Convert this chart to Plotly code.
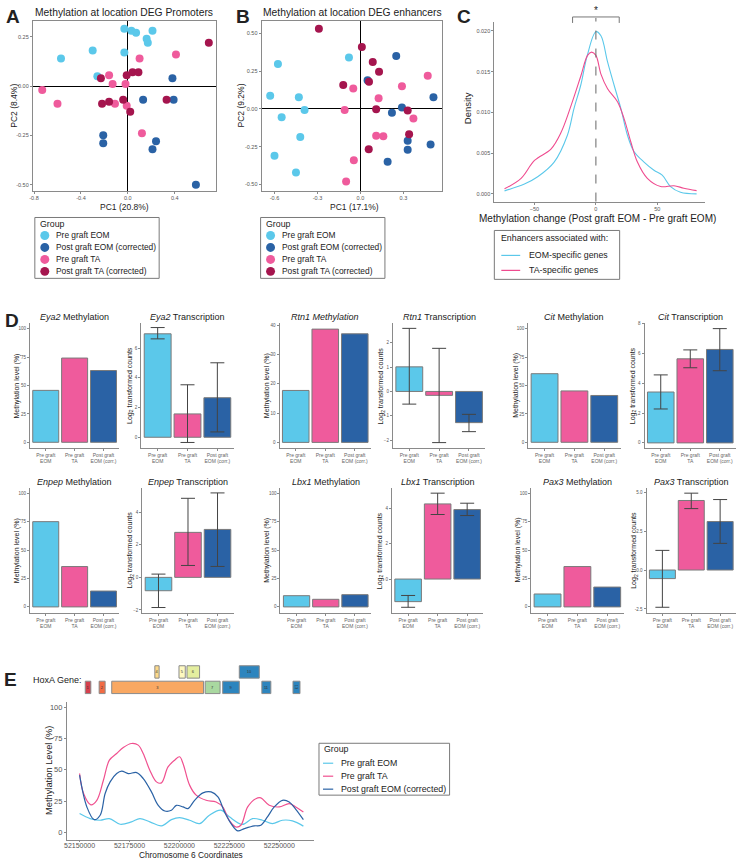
import plotly.graph_objects as go

W, H = 740, 860


def fx(p):
    return p / W


def fy(p):
    return 1 - p / H


# colours
PRE_EOM = '#5BC8EA'
POST_EOM = '#2A62A5'
PRE_TA = '#EF5B9C'
POST_TA = '#A5154E'
GREY = '#8a8a8a'
TICK = '#555555'
FONT = 'Liberation Sans, Arial, sans-serif'

# ---- panel A: PCA promoters
A_PRE_EOM_X = [-0.03, 0.03, 0.07, 0.21, 0.16, 0.17, -0.30, -0.57, -0.03, -0.26]
A_PRE_EOM_Y = [0.29, 0.28, 0.27, 0.28, 0.24, 0.22, 0.18, 0.14, 0.17, 0.05]
A_POST_EOM_X = [0.38, 0.13, 0.39, -0.21, -0.21, 0.24, 0.21, 0.58]
A_POST_EOM_Y = [0.04, -0.07, -0.07, -0.25, -0.29, -0.28, -0.32, -0.50]
A_PRE_TA_X = [-0.73, -0.60, -0.16, -0.13, -0.11, -0.02, -0.01, 0.10, 0.41, 0.12]
A_PRE_TA_Y = [-0.02, -0.09, 0.055, 0.01, -0.09, 0.01, -0.10, 0.14, 0.16, -0.24]
A_POST_TA_X = [-0.23, -0.22, -0.16, -0.04, -0.01, 0.04, 0.09, 0.02, 0.33, 0.69]
A_POST_TA_Y = [0.04, -0.09, -0.08, -0.07, 0.055, 0.07, 0.07, -0.13, -0.07, 0.22]

# ---- panel B: PCA enhancers
B_PRE_EOM_X = [-0.576, -0.63, -0.43, -0.39, -0.55, -0.42, -0.60, -0.45, -0.08]
B_PRE_EOM_Y = [0.297, 0.088, 0.077, -0.007, -0.055, -0.185, -0.31, -0.42, 0.34]
B_POST_EOM_X = [0.25, 0.05, 0.51, 0.29, 0.22, 0.33, 0.33, 0.49, 0.19]
B_POST_EOM_Y = [0.35, 0.19, 0.077, 0.01, -0.026, -0.21, -0.27, -0.235, -0.35]
B_PRE_TA_X = [-0.05, -0.11, -0.046, -0.10, 0.127, 0.29, 0.47, 0.37, 0.11, 0.16]
B_PRE_TA_Y = [0.136, -0.007, -0.34, -0.48, 0.07, 0.15, 0.22, -0.064, -0.178, -0.18]
B_POST_TA_X = [-0.29, 0.01, 0.086, 0.13, -0.12, 0.06, 0.11, 0.33, 0.34, 0.058]
B_POST_TA_Y = [0.53, 0.41, 0.31, 0.246, 0.158, 0.18, -0.002, -0.01, -0.167, -0.266]

# ---- panel C: density of methylation change
EOM_DENS_X = [-74.4, -58.2, -47.4, -34, -23.2, -17.8, -12.4, -7.0, 0, 4.1, 9.5, 14.9, 20.3,
              25.7, 31, 39.2, 47.3, 54, 60.8, 68.9, 82]
EOM_DENS_Y = [0.00037, 0.0012, 0.0021, 0.0039, 0.0072, 0.0105, 0.0133, 0.0170, 0.0199, 0.0194,
              0.0162, 0.0133, 0.0105, 0.0072, 0.0052, 0.0039, 0.0029, 0.0023, 0.0009, 0.0002, 0.0000]
TA_DENS_X = [-74.4, -60.9, -50, -36.6, -28.5, -20.3, -12.2, -6.8, -3.5, 0, 4.1, 9.5, 17.6, 23,
             28.4, 33.8, 41.9, 52.7, 63.5, 71.6, 82]
TA_DENS_Y = [0.00062, 0.0019, 0.0041, 0.0055, 0.0075, 0.0108, 0.0145, 0.0170, 0.0174, 0.0170,
             0.0147, 0.0129, 0.0113, 0.0092, 0.0064, 0.0039, 0.0019, 0.0009, 0.0010, 0.0007, 0.0004]
SIG_BRACKET = [-19, 19]

# ---- panel D: bar charts
GROUPS = ['Pre graft<br>EOM', 'Pre graft<br>TA', 'Post graft<br>EOM (corr.)']
BAR_COLORS = [PRE_EOM, PRE_TA, POST_EOM]
METHYLATION = {
    'Eya2': [45.8, 74.3, 63.3],
    'Rtn1': [17.7, 38.6, 37.0],
    'Cit': [60.5, 45.3, 41.3],
    'Enpep': [75.2, 35.6, 14.0],
    'Lbx1': [9.9, 6.7, 10.8],
    'Pax3': [11.4, 35.6, 17.5],
}
TRANSCRIPTION = {
    'Eya2': [6.96, 1.57, 2.66],
    'Rtn1': [1.01, -0.16, -1.28],
    'Cit': [3.42, 5.65, 6.28],
    'Enpep': [-0.82, 2.76, 2.94],
    'Lbx1': [-1.28, 4.26, 3.94],
    'Pax3': [-0.55, 4.46, 3.11],
}
TRANS_LOW = {
    'Eya2': [6.62, -0.35, 0.36],
    'Rtn1': [-0.52, -2.10, -1.65],
    'Cit': [2.28, 5.05, 4.85],
    'Enpep': [-1.85, 0.73, 0.67],
    'Lbx1': [-1.60, 3.66, 3.60],
    'Pax3': [-2.39, 3.94, 1.71],
}
TRANS_HIGH = {
    'Eya2': [7.38, 3.53, 5.01],
    'Rtn1': [2.59, 1.77, -0.94],
    'Cit': [4.57, 6.25, 7.68],
    'Enpep': [0.20, 4.85, 5.18],
    'Lbx1': [-0.93, 4.87, 4.30],
    'Pax3': [1.26, 4.93, 4.52],
}

# ---- panel E: HoxA cluster
GENE_LABELS = ['1', '2', '3', '4', '5', '6', '7', '9', '10', '11', '13']
GENE_START = [52152840, 52159800, 52166100, 52187700, 52199800, 52203800, 52212900,
              52221700, 52230000, 52241300, 52256900]
GENE_END = [52155630, 52162800, 52212100, 52189840, 52202940, 52210100, 52220370,
            52230000, 52240000, 52245800, 52260400]
GENE_ROW = [0, 0, 0, 1, 1, 1, 0, 0, 1, 0, 0]
GENE_COLORS = ['#D6404E', '#F26B43', '#F9A862', '#FDDA8A', '#FEF9C0', '#E4EE9F', '#A9D8A0',
               '#2D85BE', '#2D85BE', '#2D85BE', '#2D85BE']

E_TA_X = [52150000, 52152000, 52155630, 52158620, 52161940, 52164930, 52168580, 52171900,
          52176050, 52179370, 52181860, 52185180, 52188500, 52191000, 52194300, 52197600,
          52200100, 52201800, 52205100, 52208400, 52213400, 52218400, 52221700, 52225000,
          52228300, 52230800, 52234200, 52238300, 52240800, 52245000, 52250000, 52255000,
          52258300, 52262100]
E_TA_Y = [47, 31, 22, 25.6, 41.6, 57.6, 62.9, 67.7, 70.9, 69.6, 62.9, 49.6, 40.3, 39.5, 52.2,
          57.6, 60.3, 55, 37.7, 29.7, 25.6, 24.3, 20.3, 9.6, 4.3, 5.7, 20.3, 26.9, 27.5, 21.6,
          20.3, 22.9, 20.3, 16.3]
E_POST_X = [52150000, 52153650, 52157300, 52160300, 52162800, 52165300, 52168600, 52171100,
            52174400, 52178600, 52181900, 52186000, 52189400, 52192700, 52196000, 52198500,
            52201800, 52204300, 52207600, 52211800, 52215900, 52219300, 52222600, 52225900,
            52229200, 52232500, 52237500, 52240800, 52244100, 52247500, 52251600, 52255000,
            52258300, 52262100]
E_POST_Y = [45.6, 20.3, 10.2, 13.7, 31, 40.3, 46.9, 48.8, 46.9, 47.7, 42.9, 32.3, 21.6, 17.1,
            17.7, 21.6, 20.3, 19, 25.6, 31.5, 32.3, 28.3, 16.3, 7, 1.2, 3, 5.2, 5.7, 12.3, 20.3,
            25.6, 24.3, 18.4, 10.2]
E_EOM_X = [52150000, 52155300, 52160300, 52164900, 52170300, 52176000, 52180200, 52185200,
           52191000, 52196000, 52200100, 52205100, 52210100, 52215000, 52220800, 52225000,
           52231600, 52236600, 52241600, 52246600, 52251600, 52256600, 52262100]
E_EOM_Y = [15, 11, 9.7, 11, 6.5, 8.4, 11, 8.4, 5.2, 10.2, 11.8, 9.7, 7, 13.7, 17.7, 12.4, 6.4,
           11, 9.7, 7, 9.7, 9.2, 5]

fig = go.Figure()
layout = dict(width=W, height=H, autosize=False, margin=dict(l=0, r=0, t=0, b=0, pad=0),
              plot_bgcolor='white', paper_bgcolor='white', showlegend=False,
              font=dict(family=FONT, color='#222222'))
annotations = []
shapes = []


def make_axes(n, xpx, ypx, xrange, yrange, xkw=None, ykw=None):
    s = '' if n == 1 else str(n)
    base = dict(showgrid=False, zeroline=False, showline=True, linecolor=GREY, linewidth=1,
                ticks='outside', ticklen=2, tickwidth=1, tickcolor=GREY,
                tickfont=dict(size=5.5, color=TICK))
    layout['xaxis' + s] = dict(base, domain=[fx(xpx[0]), fx(xpx[1])], range=xrange,
                               anchor='y' + s, **(xkw or {}))
    layout['yaxis' + s] = dict(base, domain=[fy(ypx[1]), fy(ypx[0])], range=yrange,
                               anchor='x' + s, **(ykw or {}))
    return 'x' + s, 'y' + s


def text(x, y, s, size, color='#222222', **kw):
    kw.setdefault('xanchor', 'center')
    kw.setdefault('yanchor', 'middle')
    annotations.append(dict(x=fx(x), y=fy(y), xref='paper', yref='paper', text=s,
                            showarrow=False, font=dict(size=size, color=color, family=FONT), **kw))


def box(x0, y0, x1, y1):
    shapes.append(dict(type='rect', xref='paper', yref='paper', x0=fx(x0), x1=fx(x1),
                       y0=fy(y1), y1=fy(y0), line=dict(color='#7a7a7a', width=1)))


# ---------------- A and B
pca_style = dict(mirror=True, zeroline=True, zerolinecolor='black', zerolinewidth=1)
xa, ya = make_axes(1, (29, 213), (19, 189), [-0.81, 0.75], [-0.53, 0.33],
                   xkw=dict(pca_style, tickvals=[-0.8, -0.4, 0, 0.4],
                            ticktext=['-0.8', '-0.4', '0.0', '0.4']),
                   ykw=dict(pca_style, tickvals=[-0.5, -0.25, 0, 0.25],
                            ticktext=['-0.50', '-0.25', '0.00', '0.25']))
for xs, ys, col in [(A_PRE_EOM_X, A_PRE_EOM_Y, PRE_EOM), (A_POST_EOM_X, A_POST_EOM_Y, POST_EOM),
                    (A_PRE_TA_X, A_PRE_TA_Y, PRE_TA), (A_POST_TA_X, A_POST_TA_Y, POST_TA)]:
    fig.add_trace(go.Scatter(x=xs, y=ys, mode='markers', marker=dict(size=8, color=col),
                             xaxis=xa, yaxis=ya, cliponaxis=False))

xb, yb = make_axes(2, (259, 440), (19, 189), [-0.69, 0.567], [-0.54, 0.582],
                   xkw=dict(pca_style, tickvals=[-0.6, -0.3, 0, 0.3],
                            ticktext=['-0.6', '-0.3', '0.0', '0.3']),
                   ykw=dict(pca_style, tickvals=[-0.5, -0.25, 0, 0.25, 0.5],
                            ticktext=['-0.50', '-0.25', '0.00', '0.25', '0.50']))
for xs, ys, col in [(B_PRE_EOM_X, B_PRE_EOM_Y, PRE_EOM), (B_POST_EOM_X, B_POST_EOM_Y, POST_EOM),
                    (B_PRE_TA_X, B_PRE_TA_Y, PRE_TA), (B_POST_TA_X, B_POST_TA_Y, POST_TA)]:
    fig.add_trace(go.Scatter(x=xs, y=ys, mode='markers', marker=dict(size=8, color=col),
                             xaxis=xb, yaxis=yb, cliponaxis=False))

text(121, 11, 'Methylation at location DEG Promoters', 10.3)
text(350, 11, 'Methylation at location DEG enhancers', 10.3)
text(121, 205, 'PC1 (20.8%)', 8.5)
text(352, 205, 'PC1 (17.1%)', 8.5)
text(10, 104, 'PC2 (8.4%)', 8.5, textangle=-90)
text(238, 104, 'PC2 (9.2%)', 8.5, textangle=-90)

group_names = ['Pre graft EOM', 'Post graft EOM (corrected)', 'Pre graft TA',
               'Post graft TA (corrected)']
group_cols = [PRE_EOM, POST_EOM, PRE_TA, POST_TA]
for lx in (31, 258):
    box(lx, 216, lx + 125, 277)
    text(lx + 3, 223, 'Group', 8.8, xanchor='left')
    for i, (nm, col) in enumerate(zip(group_names, group_cols)):
        cy = 234 + i * 12
        shapes.append(dict(type='circle', xref='paper', yref='paper', x0=fx(lx + 5.5),
                           x1=fx(lx + 14.5), y0=fy(cy + 4.5), y1=fy(cy - 4.5),
                           fillcolor=col, line=dict(width=0)))
        text(lx + 19, cy, nm, 8.4, xanchor='left')

# ---------------- C
xc, yc = make_axes(3, (493, 705), (20, 200), [-82.7, 89], [-0.00094, 0.0211],
                   xkw=dict(tickvals=[-50, 0, 50]),
                   ykw=dict(tickvals=[0, 0.005, 0.01, 0.015, 0.02], tickformat='.3f'))
fig.add_trace(go.Scatter(x=EOM_DENS_X, y=EOM_DENS_Y, mode='lines', line=dict(color=PRE_EOM, width=1.1, shape='spline'),
                         xaxis=xc, yaxis=yc))
fig.add_trace(go.Scatter(x=TA_DENS_X, y=TA_DENS_Y, mode='lines', line=dict(color='#EF4B8F', width=1.1, shape='spline'),
                         xaxis=xc, yaxis=yc))
shapes.append(dict(type='line', xref=xc, yref='paper', x0=0, x1=0, y0=fy(200), y1=fy(16),
                   line=dict(color='#666666', width=1, dash='dash')))
shapes.append(dict(type='line', xref=xc, yref='paper', x0=SIG_BRACKET[0], x1=SIG_BRACKET[1],
                   y0=fy(15), y1=fy(15), line=dict(color='#777777', width=1)))
for bx in SIG_BRACKET:
    shapes.append(dict(type='line', xref=xc, yref='paper', x0=bx, x1=bx, y0=fy(15), y1=fy(21),
                       line=dict(color='#777777', width=1)))
annotations.append(dict(x=0, xref=xc, y=fy(9), yref='paper', text='*', showarrow=False,
                        xanchor='center', yanchor='middle',
                        font=dict(size=10, color='#222222', family=FONT)))
text(462, 15, '<b>C</b>', 19)
text(466, 106, 'Density', 9.5, textangle=-90)
text(597, 217, 'Methylation change (Post graft EOM - Pre graft EOM)', 10)
box(493, 229, 619, 278)
text(498, 237, 'Enhancers associated with:', 8.8, xanchor='left')
for cy, nm, col in [(254, 'EOM-specific genes', PRE_EOM), (269, 'TA-specific genes', '#EF4B8F')]:
    shapes.append(dict(type='line', xref='paper', yref='paper', x0=fx(500), x1=fx(519),
                       y0=fy(cy), y1=fy(cy), line=dict(color=col, width=1.2)))
    text(526, cy, nm, 8.8, xanchor='left')

# ---------------- D
D_PANELS = [
    # gene, row top/bottom, methylation axis x-span, transcription axis x-span,
    # methylation range/ticks, transcription range/ticks
    ('Eya2', (322, 447), (26, 116), (138, 231), [-5, 105], [0, 25, 50, 75, 100],
     [-0.72, 7.67], [0, 2, 4, 6], None, False),
    ('Rtn1', (322, 447), (277, 369), (391, 484), [-1.9, 40.6], [0, 10, 20, 30, 40],
     [-2.32, 2.8], [-2, -1, 0, 1, 2], None, True),
    ('Cit', (322, 447), (527, 620), (644, 736), [-5, 105], [0, 25, 50, 75, 100],
     [-0.34, 8.04], [0, 2, 4, 6, 8], None, False),
    ('Enpep', (487, 612), (26, 116), (139, 231), [-5, 105], [0, 25, 50, 75, 100],
     [-2.16, 5.49], [-2, 0, 2, 4], None, False),
    ('Lbx1', (487, 612), (278, 369), (390, 482), [-5, 105], [0, 25, 50, 75, 100],
     [-1.9, 5.17], [0, 2, 4], None, False),
    ('Pax3', (487, 612), (530, 623), (646, 736), [-5, 105], [0, 25, 50, 75, 100],
     [-2.73, 5.27], [-2.5, 0, 2.5, 5], ['-2.5', '0.0', '2.5', '5.0'], False),
]
n = 4
cat_kw = dict(type='category', tickfont=dict(size=5, color='#666666'), ticklen=2)
for gene, rowy, mspan, tspan, mrange, mticks, trange, tticks, tlabels, all_italic in D_PANELS:
    mx, my = make_axes(n, mspan, rowy, [-0.55, 2.55], mrange, xkw=dict(cat_kw),
                       ykw=dict(tickvals=mticks, tickfont=dict(size=4.5, color=TICK)))
    n += 1
    fig.add_trace(go.Bar(x=GROUPS, y=METHYLATION[gene], width=0.9,
                         marker=dict(color=BAR_COLORS, line=dict(color='#7a7a7a', width=1)),
                         xaxis=mx, yaxis=my))
    tkw = dict(tickvals=tticks, tickfont=dict(size=4.5, color=TICK))
    if tlabels:
        tkw['ticktext'] = tlabels
    tx, ty = make_axes(n, tspan, rowy, [-0.55, 2.55], trange, xkw=dict(cat_kw), ykw=tkw)
    n += 1
    vals = TRANSCRIPTION[gene]
    up = [h - v for h, v in zip(TRANS_HIGH[gene], vals)]
    down = [v - lo for v, lo in zip(vals, TRANS_LOW[gene])]
    fig.add_trace(go.Bar(x=GROUPS, y=vals, width=0.9,
                         marker=dict(color=BAR_COLORS, line=dict(color='#7a7a7a', width=1)),
                         error_y=dict(type='data', array=up, arrayminus=down, color='#444444',
                                      thickness=1, width=7),
                         xaxis=tx, yaxis=ty))
    ty_title = rowy[0] - 6
    mtitle = f'<i>{gene} Methylation</i>' if all_italic else f'<i>{gene}</i> Methylation'
    text((mspan[0] + mspan[1]) / 2, ty_title, mtitle, 9)
    text((tspan[0] + tspan[1]) / 2, ty_title, f'<i>{gene}</i> Transcription', 9)
    midy = (rowy[0] + rowy[1]) / 2
    text(mspan[0] - 13, midy, 'Methylation level (%)', 7, textangle=-90)
    text(tspan[0] - 12, midy, 'Log<sub>2</sub> transformed counts', 7, textangle=-90)

text(8, 319, '<b>D</b>', 19)

# ---------------- E
e_range = [52143675, 52267430]
ex, ey = make_axes(n, (63.3, 311.7), (702, 840), e_range, [-6.1, 103.7],
                   xkw=dict(tick0=52150000, dtick=25000, tickformat='d', ticklen=1,
                            ticklabelstandoff=-2, tickfont=dict(size=7, color=TICK)),
                   ykw=dict(tickvals=[0, 25, 50, 75, 100], tickfont=dict(size=7.5, color=TICK)))
n += 1
for xs, ys, col in [(E_EOM_X, E_EOM_Y, PRE_EOM), (E_TA_X, E_TA_Y, '#F0508F'),
                    (E_POST_X, E_POST_Y, POST_EOM)]:
    fig.add_trace(go.Scatter(x=xs, y=ys, mode='lines', line=dict(color=col, width=1.2, shape='spline'),
                             xaxis=ex, yaxis=ey))

gx, gy = make_axes(n, (63.3, 311.7), (663.75, 694.75), e_range, [-0.5, 1.5],
                   xkw=dict(visible=False), ykw=dict(visible=False))
fig.add_trace(go.Bar(x=[e - s for s, e in zip(GENE_START, GENE_END)], base=GENE_START, y=GENE_ROW,
                     orientation='h', width=0.8, text=GENE_LABELS, textposition='inside',
                     insidetextanchor='middle', constraintext='none',
                     textfont=dict(size=4, color='#333333'),
                     marker=dict(color=GENE_COLORS, line=dict(color='#8a8a8a', width=1)),
                     xaxis=gx, yaxis=gy))

text(7, 679, '<b>E</b>', 19)
text(27, 680, 'HoxA Gene:', 9, xanchor='left')
text(45, 770, 'Methylation Level (%)', 9.3, textangle=-90)
text(188, 855, 'Chromosome 6 Coordinates', 8.3)
box(316.7, 743, 448, 795)
text(320, 749, 'Group', 8.8, xanchor='left')
for cy, nm, col in [(763, 'Pre graft EOM', PRE_EOM), (776, 'Pre graft TA', '#F0508F'),
                    (789, 'Post graft EOM (corrected)', POST_EOM)]:
    shapes.append(dict(type='line', xref='paper', yref='paper', x0=fx(320.7), x1=fx(331),
                       y0=fy(cy), y1=fy(cy), line=dict(color=col, width=1.2)))
    text(336.7, cy, nm, 8.8, xanchor='left')

text(9, 15, '<b>A</b>', 19)
text(240, 15, '<b>B</b>', 19)

layout['annotations'] = annotations
layout['shapes'] = shapes
fig.update_layout(**layout)
fig.write_html("out.html", config={'displayModeBar': False},
               post_script="document.body.style.margin='0';document.body.style.overflow='hidden';")
